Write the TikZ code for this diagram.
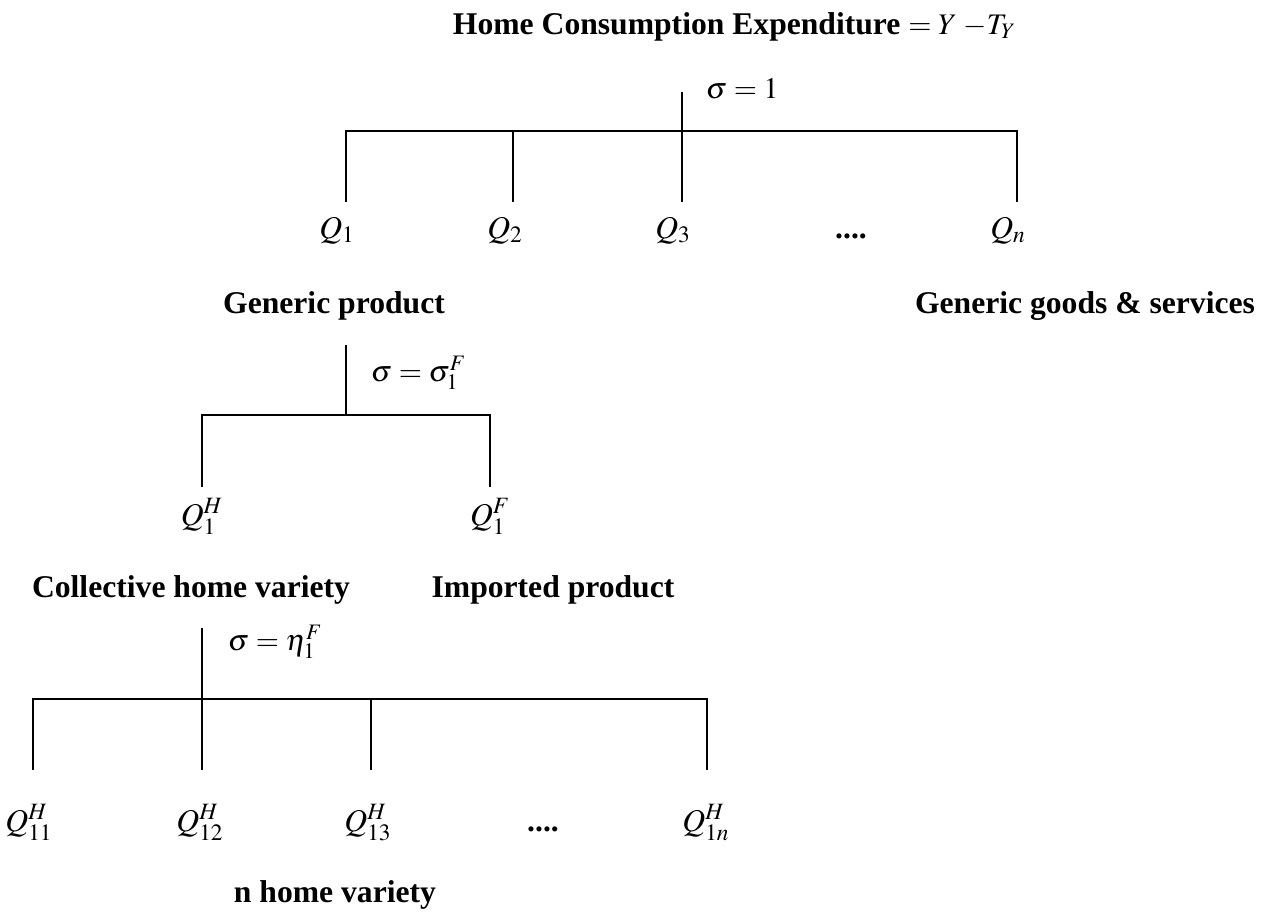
\documentclass[tikz,border=0pt]{standalone}
\usepackage{mathptmx}
\usepackage[no-math]{fontspec}
\setmainfont{Liberation Serif}
\begin{document}
\fontsize{18}{21}\selectfont
\begin{tikzpicture}[x=0.02cm, y=-0.02cm, line width=1.1pt,
    lbl/.style={font=\bfseries, anchor=base, inner sep=0pt},
    qlbl/.style={anchor=base, inner sep=0pt},
    sig/.style={anchor=base west, inner sep=0pt, font=\fontsize{17}{20}\selectfont}]
    \useasboundingbox (0,0) rectangle (1272,916);
    % Top level
    \node[lbl, anchor=base west] (home) at (452,34)
        {Home Consumption Expenditure
         \mdseries\fontsize{17}{20}\selectfont$= Y\;{-}T_Y$};
    \coordinate (r1) at (682,92);
    \coordinate (j1) at (682,131);
    \node[sig] (s1) at (705,98) {$\sigma = 1$};
    \coordinate (f11) at (346,202); \coordinate (f12) at (513,202);
    \coordinate (f13) at (682,202); \coordinate (f14) at (1017,202);
    \draw (r1) -- (f13);
    \draw (f11) |- (j1) -| (f14);
    \draw (f12) -- (f12 |- j1);
    \node[qlbl] (q1) at (337,238) {$Q_1$};
    \node[qlbl] (q2) at (505,238) {$Q_2$};
    \node[qlbl] (q3) at (673,238) {$Q_3$};
    \node[lbl] (qd) at (851,238) {....};
    \node[qlbl] (qn) at (1008,238) {$Q_n$};
    \node[lbl] (gp) at (334,313) {Generic product};
    \node[lbl] (gs) at (1085,313) {Generic goods \& services};
    % Generic product
    \coordinate (r2) at (346,345);
    \coordinate (j2) at (346,415);
    \node[sig] (s2) at (370,381) {$\sigma = \sigma_1^F$};
    \coordinate (f21) at (202,487); \coordinate (f22) at (490,487);
    \draw (r2) -- (j2);
    \draw (f21) |- (j2) -| (f22);
    \node[qlbl] (qh) at (202,525) {$Q_1^H$};
    \node[qlbl] (qf) at (490,525) {$Q_1^F$};
    \node[lbl] (ch) at (191,597) {Collective home variety};
    \node[lbl] (ip) at (553,597) {Imported product};
    % Home varieties
    \coordinate (r3) at (202,628);
    \coordinate (j3) at (202,699);
    \node[sig] (s3) at (227,650) {$\sigma = \eta_1^F$};
    \coordinate (f31) at (33,770); \coordinate (f32) at (202,770);
    \coordinate (f33) at (371,770); \coordinate (f34) at (707,770);
    \draw (r3) -- (f32);
    \draw (f31) |- (j3) -| (f34);
    \draw (f33) -- (f33 |- j3);
    \node[qlbl] (h1) at (29,831) {$Q_{11}^H$};
    \node[qlbl] (h2) at (200,831) {$Q_{12}^H$};
    \node[qlbl] (h3) at (368,831) {$Q_{13}^H$};
    \node[lbl] (hd) at (543,831) {....};
    \node[qlbl] (hn) at (706,831) {$Q_{1n}^H$};
    \node[lbl] (nh) at (335,902) {n home variety};
\end{tikzpicture}
\end{document}
